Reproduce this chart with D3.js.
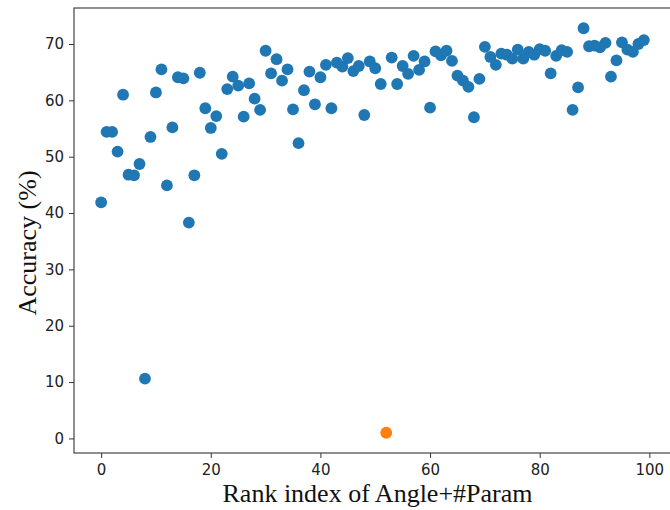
<!DOCTYPE html>
<html>
<head>
<meta charset="utf-8">
<style>
    html, body { margin: 0; padding: 0; background: #fff; }
    .tick text { font-family: "DejaVu Sans", sans-serif; font-size: 15px; fill: #222; }
    .tick line { stroke: #333; }
    .label { font-family: "Liberation Serif", "Times New Roman", serif; font-size: 26px; fill: #111; }
</style>
<script src="https://d3js.org/d3.v7.min.js"></script>
</head>
<body>
<svg width="670" height="510"></svg>
<script>
    // accuracy (%) for each rank index 0..99
    var accuracy = [
        41.9, 54.4, 54.4, 50.9, 61.0, 46.8, 46.7, 48.7, 10.6, 53.5,
        61.4, 65.5, 44.9, 55.2, 64.1, 63.9, 38.3, 46.7, 64.9, 58.6,
        55.1, 57.2, 50.5, 62.0, 64.2, 62.6, 57.1, 63.0, 60.3, 58.3,
        68.8, 64.8, 67.3, 63.5, 65.5, 58.4, 52.4, 61.8, 65.1, 59.3,
        64.1, 66.3, 58.6, 66.7, 66.0, 67.5, 65.2, 66.1, 57.4, 66.9,
        65.7, 62.9, 1.0, 67.6, 62.9, 66.1, 64.7, 67.9, 65.4, 66.9,
        58.7, 68.7, 68.0, 68.8, 67.0, 64.4, 63.5, 62.4, 57.0, 63.8,
        69.5, 67.7, 66.3, 68.3, 68.1, 67.4, 69.0, 67.4, 68.6, 68.1,
        69.1, 68.8, 64.8, 67.9, 68.9, 68.6, 58.3, 62.3, 72.8, 69.6,
        69.7, 69.4, 70.2, 64.2, 67.1, 70.3, 69.0, 68.6, 70.0, 70.7
    ];
    var highlight = 52;
    var xTicks = [0, 20, 40, 60, 80, 100];
    var yTicks = [0, 10, 20, 30, 40, 50, 60, 70];

    var svg = d3.select("svg"),
        plot = {left: 74, right: 671, top: 8, bottom: 453};

    var data = accuracy.map(function(v, i) { return {rank: i, acc: v}; });

    // matplotlib style 5% margins
    var xExt = d3.extent(data, function(d) { return d.rank; }),
        yExt = d3.extent(data, function(d) { return d.acc; }),
        xPad = (xExt[1] - xExt[0]) * 0.05,
        yPad = (yExt[1] - yExt[0]) * 0.05;

    var x = d3.scaleLinear()
        .domain([xExt[0] - xPad, xExt[1] + xPad])
        .range([plot.left, plot.right]);

    var y = d3.scaleLinear()
        .domain([yExt[0] - yPad, yExt[1] + yPad])
        .range([plot.bottom, plot.top]);

    svg.append("g")
        .attr("class", "dots")
        .selectAll("circle")
        .data(data)
        .enter().append("circle")
        .attr("cx", function(d) { return x(d.rank); })
        .attr("cy", function(d) { return y(d.acc); })
        .attr("r", 5.9)
        .attr("fill", function(d) { return d.rank === highlight ? "#ff7f0e" : "#1f77b4"; });

    var ax = svg.append("g")
        .attr("transform", "translate(0," + plot.bottom + ")")
        .call(d3.axisBottom(x).tickValues(xTicks).tickSize(5).tickPadding(6));
    ax.select(".domain").remove();

    var ay = svg.append("g")
        .attr("transform", "translate(" + plot.left + ",0)")
        .call(d3.axisLeft(y).tickValues(yTicks).tickSize(5).tickPadding(5));
    ay.select(".domain").remove();

    svg.append("rect")
        .attr("x", plot.left)
        .attr("y", plot.top)
        .attr("width", plot.right - plot.left)
        .attr("height", plot.bottom - plot.top)
        .attr("fill", "none")
        .attr("stroke", "#333")
        .attr("stroke-width", 1.1);

    svg.append("text")
        .attr("class", "label")
        .attr("x", (plot.left + plot.right) / 2 + 5)
        .attr("y", 502)
        .attr("text-anchor", "middle")
        .text("Rank index of Angle+#Param");

    svg.append("text")
        .attr("class", "label")
        .attr("transform", "translate(36,243) rotate(-90)")
        .attr("text-anchor", "middle")
        .text("Accuracy (%)");
</script>
</body>
</html>
